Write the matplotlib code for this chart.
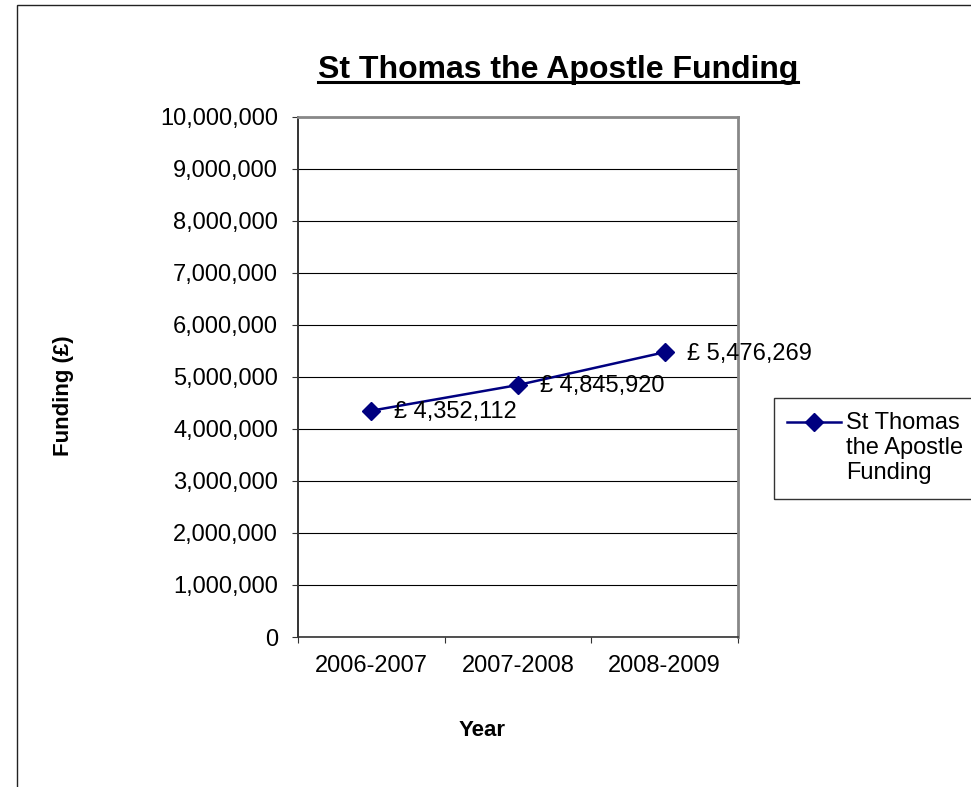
import matplotlib.pyplot as plt
import matplotlib.ticker as mticker
from matplotlib.lines import Line2D
from matplotlib.patches import Rectangle

plt.rcParams['font.family'] = ['Liberation Sans', 'DejaVu Sans']

# Дані
years = ['2006-2007', '2007-2008', '2008-2009']
funding = [4352112, 4845920, 5476269]
series_name = 'St Thomas\nthe Apostle\nFunding'
title = 'St Thomas the Apostle Funding'

W, H = 971, 787
line_color = '#000080'
fig = plt.figure(figsize=(W / 100, H / 100), dpi=100)

# Рамка навколо всієї діаграми (праворуч і знизу обрізана)
fig.patches.append(Rectangle((17 / W, -0.1), 1.2, 1.1 - 5 / H, transform=fig.transFigure,
                             fill=False, edgecolor='#222222', lw=1))

ax = fig.add_axes([298 / W, 1 - 637 / H, (738 - 298) / W, (637 - 117) / H])

xs = [i + 0.5 for i in range(len(years))]
ax.plot(xs, funding, color=line_color, lw=1.8, marker='D', markersize=9.5, zorder=3)

for x, v in zip(xs, funding):
    ax.annotate('£ {:,}'.format(v), (x, v), xytext=(16, -1), textcoords='offset points',
                ha='left', va='center', fontsize=17)

ax.set_xlim(0, 3)
ax.set_ylim(0, 10000000)
ax.yaxis.set_major_locator(mticker.MultipleLocator(1000000))
ax.yaxis.set_major_formatter(mticker.FuncFormatter(lambda v, p: '{:,.0f}'.format(v)))
ax.grid(axis='y', color='black', lw=0.8)
ax.set_axisbelow(True)

ax.set_xticks([0, 1, 2, 3])
ax.set_xticklabels([])
ax.set_xticks(xs, minor=True)
ax.set_xticklabels(years, minor=True)
ax.tick_params(axis='x', which='minor', length=0, pad=13, labelsize=17)
ax.tick_params(axis='x', which='major', length=4.3, color='#333333')
ax.tick_params(axis='y', length=4.3, color='#333333', pad=10, labelsize=17)

ax.spines['left'].set_color('#333333')
ax.spines['left'].set_linewidth(1.4)
ax.spines['bottom'].set_color('#333333')
ax.spines['bottom'].set_linewidth(1.2)
for s in ['top', 'right']:
    ax.spines[s].set_color('#888888')
    ax.spines[s].set_linewidth(2)

# Назви осей
fig.text(64 / W, 1 - 396 / H, 'Funding (£)', rotation=90, ha='center', va='center',
         fontsize=16, fontweight='bold')
fig.text(482 / W, 1 - 730 / H, 'Year', ha='center', va='center',
         fontsize=16, fontweight='bold')

# Заголовок з підкресленням
t = fig.text(558 / W, 1 - 78 / H, title, ha='center', va='baseline',
             fontsize=23, fontweight='bold')
fig.canvas.draw()
bb = t.get_window_extent()
yl = (H - 82) / H
fig.lines.append(Line2D([bb.x0 / W, bb.x1 / W], [yl, yl], transform=fig.transFigure,
                        color='black', lw=2.2))

# Легенда (вручну: маркер стоїть навпроти першого рядка, як в Excel)
fig.patches.append(Rectangle((774 / W, 1 - 499 / H), 0.3, 101 / H, transform=fig.transFigure,
                             fill=False, edgecolor='#333333', lw=1))
hy = 1 - 422 / H
fig.lines.append(Line2D([787 / W, 841 / W], [hy, hy], transform=fig.transFigure,
                        color=line_color, lw=1.8))
fig.lines.append(Line2D([814 / W], [hy], transform=fig.transFigure, color=line_color,
                        marker='D', markersize=9.5, lw=0))
for i, row in enumerate(series_name.split('\n')):
    fig.text(846 / W, 1 - (429 + 25 * i) / H, row, ha='left', va='baseline', fontsize=17)

fig.savefig('out.png', dpi=100)
